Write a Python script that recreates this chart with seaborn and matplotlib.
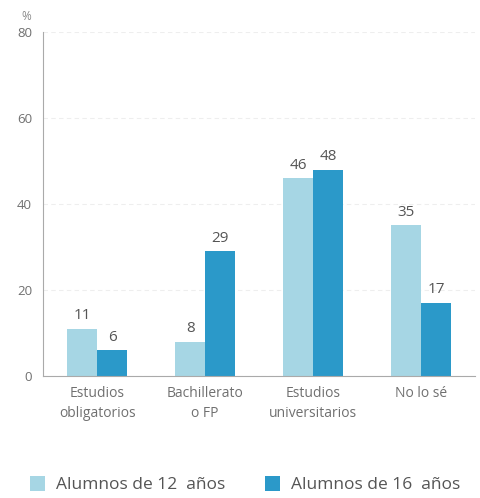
import numpy as np
import pandas as pd
import matplotlib.pyplot as plt
import seaborn as sns

# data
categorias = ["Estudios\nobligatorios", "Bachillerato\no FP", "Estudios\nuniversitarios", "No lo sé"]
alumnos_12 = [11, 8, 46, 35]
alumnos_16 = [6, 29, 48, 17]
series = ["Alumnos de 12  años", "Alumnos de 16  años"]
colores = ["#a6d6e4", "#2b99c9"]

df = pd.DataFrame({
    "categoria": categorias * 2,
    "valor": alumnos_12 + alumnos_16,
    "serie": [series[0]] * 4 + [series[1]] * 4,
})

sns.set_style("white")
plt.rcParams["font.family"] = ["Open Sans", "DejaVu Sans"]

fig = plt.figure(figsize=(4.8, 4.98), dpi=100)
ax = fig.add_axes([0.09, 0.245, 0.90, 0.691])

sns.barplot(data=df, x="categoria", y="valor", hue="serie", palette=colores,
            width=0.56, gap=0, saturation=1, linewidth=0, ax=ax, legend=True)

for cont in ax.containers:
    ax.bar_label(cont, fmt="%d", padding=4, fontsize=11, color="#555555")

ax.set_ylim(0, 80)
ax.set_xlim(-0.5, 3.5)
ax.set_yticks([0, 20, 40, 60, 80])
ax.set_xlabel("")
ax.set_ylabel("")
ax.tick_params(axis="both", length=0, labelcolor="#707070")
ax.tick_params(axis="x", labelsize=10, pad=7)
ax.tick_params(axis="y", labelsize=9.5, pad=8)
for t in ax.get_xticklabels():
    t.set_linespacing(1.5)
ax.yaxis.grid(True, color="#eeeeee", linestyle=(0, (4, 3)), linewidth=0.8)
ax.set_axisbelow(True)
sns.despine(ax=ax, top=True, right=True)
ax.spines["left"].set_color("#aaaaaa")
ax.spines["bottom"].set_color("#aaaaaa")
ax.text(-0.04, 1.035, "%", transform=ax.transAxes, fontsize=8.5, color="#888888", ha="center")

handles, labels = ax.get_legend_handles_labels()
ax.get_legend().remove()
fig.legend(handles, labels, loc="lower center", bbox_to_anchor=(0.51, -0.022), ncol=2,
           frameon=False, fontsize=12.5, labelcolor="#555555", handlelength=0.9,
           handleheight=0.9, columnspacing=2.3, handletextpad=0.6)

fig.savefig("out.png", dpi=100)
